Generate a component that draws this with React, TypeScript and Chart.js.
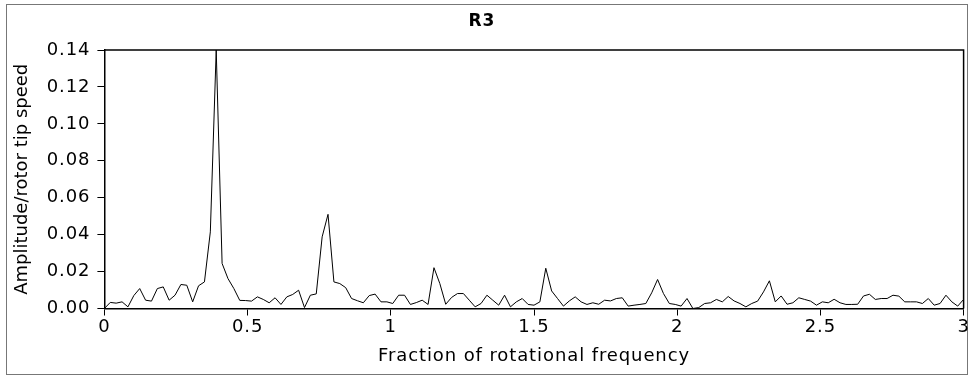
import React, { useEffect, useRef } from "react";
import { Chart, registerables } from "chart.js";

Chart.register(...registerables);

// Spectrum of the R3 signal: one amplitude per frequency bin.
const BIN_WIDTH = 3 / 146; // bin spacing, in fractions of rotational frequency
const amplitude: number[] = [
  0.0, 0.0033, 0.0029, 0.0036, 0.0009, 0.007, 0.0108, 0.0045, 0.004, 0.0108,
  0.0117, 0.0045, 0.0072, 0.013, 0.0126, 0.0036, 0.0123, 0.0144, 0.0415, 0.14,
  0.0244, 0.0162, 0.0108, 0.0044, 0.0043, 0.004, 0.0063, 0.0049, 0.0031, 0.0058,
  0.0022, 0.0063, 0.0076, 0.0099, 0.0005, 0.0072, 0.0079, 0.0388, 0.051, 0.0144,
  0.0135, 0.0113, 0.0054, 0.0042, 0.0031, 0.007, 0.0078, 0.0036, 0.0036, 0.0027,
  0.0072, 0.0072, 0.0022, 0.0032, 0.0045, 0.0022, 0.0221, 0.0135, 0.0023, 0.006,
  0.0081, 0.0081, 0.0045, 0.0009, 0.0027, 0.0072, 0.0045, 0.0018, 0.0072, 0.0009,
  0.0036, 0.0054, 0.0022, 0.0018, 0.0036, 0.0218, 0.0095, 0.0054, 0.0013, 0.0041,
  0.0063, 0.0036, 0.0022, 0.0031, 0.0023, 0.0045, 0.0041, 0.0054, 0.0058, 0.0013,
  0.0018, 0.0022, 0.0027, 0.0085, 0.0157, 0.0081, 0.0027, 0.0022, 0.0013, 0.0054,
  0.0, 0.0005, 0.0027, 0.0031, 0.0049, 0.0036, 0.0065, 0.0041, 0.0027, 0.0009,
  0.0027, 0.004, 0.009, 0.015, 0.0036, 0.0068, 0.0023, 0.0031, 0.0058, 0.0049,
  0.004, 0.0018, 0.0036, 0.0031, 0.005, 0.0031, 0.0022, 0.0022, 0.0023, 0.0068,
  0.0077, 0.0049, 0.0054, 0.0054, 0.0072, 0.0067, 0.0036, 0.0036, 0.0036, 0.0027,
  0.0054, 0.0018, 0.0027, 0.0072, 0.0036, 0.0013, 0.0049, 0.0005,
];

const X_MIN = 0;
const X_MAX = 3;
const X_STEP = 0.5;
const Y_MIN = 0;
const Y_MAX = 0.14;
const Y_STEP = 0.02;

const TITLE = "R3";
const X_TITLE = "Fraction of rotational frequency";
const Y_TITLE = "Amplitude/rotor tip speed";

const FONT = "'DejaVu Sans', sans-serif";
// Horizontal text is set a little wider than the vertical axis title.
const WIDE_SPACING = "0.9px";

// Frame on the top/right of the plot plus the thin figure border.
const framePlugin = {
  id: "frame",
  beforeDraw(chart: any) {
    const { ctx, width, height } = chart;
    ctx.save();
    ctx.fillStyle = "#ffffff";
    ctx.fillRect(0, 0, width, height);
    ctx.strokeStyle = "#777777";
    ctx.lineWidth = 1;
    ctx.strokeRect(6.5, 4.5, 961, 370);
    ctx.restore();

    // Spaced lettering for horizontal text; the rotated y title keeps normal spacing.
    ctx.letterSpacing = WIDE_SPACING;
    const yScale = chart.scales.y;
    if (yScale && !yScale.__plainTitle) {
      const drawTitle = yScale.drawTitle;
      yScale.drawTitle = function (...args: any[]) {
        const c = this.ctx;
        const prev = c.letterSpacing;
        c.letterSpacing = "0px";
        drawTitle.apply(this, args);
        c.letterSpacing = prev;
      };
      yScale.__plainTitle = true;
    }
  },
  afterDraw(chart: any) {
    const { ctx, chartArea } = chart;
    ctx.save();
    ctx.strokeStyle = "#000000";
    ctx.lineWidth = 1.5;
    ctx.beginPath();
    ctx.moveTo(chartArea.left, chartArea.top);
    ctx.lineTo(chartArea.right, chartArea.top);
    ctx.lineTo(chartArea.right, chartArea.bottom);
    ctx.stroke();
    ctx.restore();
  },
};

export default function App() {
  const canvasRef = useRef<HTMLCanvasElement | null>(null);

  useEffect(() => {
    const canvas = canvasRef.current;
    if (!canvas) return;
    const points = amplitude.map((y, i) => ({ x: i * BIN_WIDTH, y }));

    const chart = new Chart(canvas, {
      type: "line",
      data: {
        datasets: [
          {
            data: points,
            borderColor: "#000000",
            borderWidth: 1,
            pointRadius: 0,
            tension: 0,
            fill: false,
          },
        ],
      },
      options: {
        responsive: false,
        animation: false,
        devicePixelRatio: 1,
        layout: { padding: { left: 0, right: 8.4, top: 0, bottom: 0 } },
        plugins: {
          legend: { display: false },
          tooltip: { enabled: false },
          title: {
            display: true,
            text: TITLE,
            color: "#000000",
            font: { family: FONT, size: 17, weight: "bold" },
            padding: { top: 11, bottom: 18.6 },
          },
        },
        scales: {
          x: {
            type: "linear",
            min: X_MIN,
            max: X_MAX,
            afterFit: (scale: any) => {
              scale.height = 69.5;
            },
            ticks: {
              stepSize: X_STEP,
              color: "#000000",
              font: { family: FONT, size: 18 },
              padding: 1.5,
              maxRotation: 0,
              callback: (v: any) => String(Number(v)),
            },
            grid: {
              display: true,
              drawOnChartArea: false,
              drawTicks: true,
              tickLength: 7,
              color: "#000000",
              lineWidth: 1,
            },
            border: { display: true, color: "#000000", width: 1.5 },
            title: {
              display: true,
              text: X_TITLE,
              color: "#000000",
              font: { family: FONT, size: 18 },
              padding: { top: 0, bottom: 10.5 },
            },
          },
          y: {
            type: "linear",
            min: Y_MIN,
            max: Y_MAX,
            afterFit: (scale: any) => {
              scale.width = 104.4;
            },
            ticks: {
              stepSize: Y_STEP,
              color: "#000000",
              font: { family: FONT, size: 18 },
              padding: 7,
              callback: (v: any) => Number(v).toFixed(2),
            },
            grid: {
              display: true,
              drawOnChartArea: false,
              drawTicks: true,
              tickLength: 7,
              color: "#000000",
              lineWidth: 1,
            },
            border: { display: true, color: "#000000", width: 1.5 },
            title: {
              display: true,
              text: Y_TITLE,
              color: "#000000",
              font: { family: FONT, size: 18 },
              padding: { top: 12, bottom: 0 },
            },
          },
        },
      },
      plugins: [framePlugin],
    });

    return () => chart.destroy();
  }, []);

  return (
    <div style={{ position: "fixed", left: 0, top: 0, width: 972, height: 378, background: "#fff" }}>
      <canvas ref={canvasRef} width={972} height={378} style={{ display: "block", width: 972, height: 378 }} />
    </div>
  );
}
